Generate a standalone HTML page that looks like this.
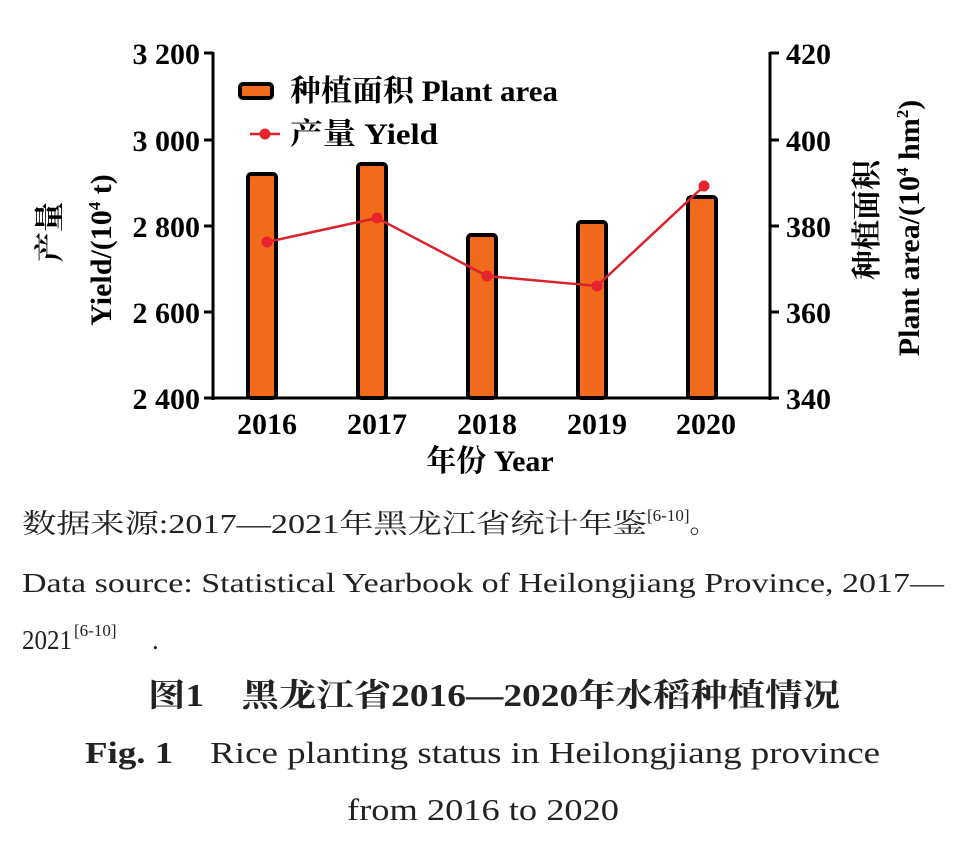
<!DOCTYPE html><html><head><meta charset="utf-8"><style>
body{margin:0;background:#fff;width:966px;height:845px;overflow:hidden}
svg text{font-family:"Liberation Serif","Noto Serif CJK SC",serif}
</style></head><body>
<svg width="966" height="845" viewBox="0 0 966 845" xmlns="http://www.w3.org/2000/svg">
<g stroke="#000" stroke-width="3" fill="none">
<line x1="213" y1="52" x2="213" y2="400"/>
<line x1="212" y1="398" x2="772" y2="398"/>
<line x1="770" y1="52" x2="770" y2="400"/>
<line x1="204" y1="53" x2="213" y2="53"/><line x1="204" y1="140" x2="213" y2="140"/><line x1="204" y1="226" x2="213" y2="226"/><line x1="204" y1="312" x2="213" y2="312"/><line x1="204" y1="398" x2="213" y2="398"/>
<line x1="770" y1="53" x2="779" y2="53"/><line x1="770" y1="140" x2="779" y2="140"/><line x1="770" y1="226" x2="779" y2="226"/><line x1="770" y1="312" x2="779" y2="312"/><line x1="770" y1="398" x2="779" y2="398"/>
</g>
<g font-weight="bold" font-size="30" fill="#000">
<text x="200" y="64" text-anchor="end">3 200</text>
<text x="200" y="151" text-anchor="end">3 000</text>
<text x="200" y="237" text-anchor="end">2 800</text>
<text x="200" y="323" text-anchor="end">2 600</text>
<text x="200" y="409" text-anchor="end">2 400</text>
<text x="786" y="64">420</text><text x="786" y="151">400</text><text x="786" y="237">380</text><text x="786" y="323">360</text><text x="786" y="409">340</text>
<text x="267" y="434" text-anchor="middle">2016</text><text x="377" y="434" text-anchor="middle">2017</text><text x="487" y="434" text-anchor="middle">2018</text><text x="597" y="434" text-anchor="middle">2019</text><text x="706" y="434" text-anchor="middle">2020</text>
<text x="490" y="471" text-anchor="middle">年份 Year</text>
<text transform="translate(60,232) rotate(-90)" text-anchor="middle">产量</text>
<text transform="translate(111,250) rotate(-90)" text-anchor="middle">Yield/(10<tspan font-size="17" dy="-11">4</tspan><tspan dy="11"> t)</tspan></text>
<text transform="translate(877,220) rotate(-90)" text-anchor="middle">种植面积</text>
<text transform="translate(919,228) rotate(-90)" text-anchor="middle">Plant area/(10<tspan font-size="17" dy="-11">4</tspan><tspan dy="11"> hm</tspan><tspan font-size="17" dy="-11">2</tspan><tspan dy="11">)</tspan></text>
<text x="290" y="101" textLength="268" lengthAdjust="spacingAndGlyphs">种植面积 Plant area</text>
<text x="290" y="144" textLength="148" lengthAdjust="spacingAndGlyphs">产量 Yield</text>
</g>
<g fill="#f26a1b" stroke="#000" stroke-width="4">
<rect x="240" y="84" width="32" height="14" rx="3"/>
<rect x="248" y="174" width="28" height="224" rx="3"/>
<rect x="358" y="164" width="28" height="234" rx="3"/>
<rect x="468" y="235" width="28" height="163" rx="3"/>
<rect x="578" y="222" width="28" height="176" rx="3"/>
<rect x="688" y="197" width="28" height="201" rx="3"/>
</g>
<g stroke="#d9232d" stroke-width="2.5" fill="none">
<line x1="250" y1="134" x2="280" y2="134"/>
<polyline points="267,242 377,218 487,276 597,286 704,186"/>
</g>
<g fill="#e8232d">
<circle cx="265" cy="134" r="5.5"/>
<circle cx="267" cy="242" r="5.5"/><circle cx="377" cy="218" r="5.5"/><circle cx="487" cy="276" r="5.5"/><circle cx="597" cy="286" r="5.5"/><circle cx="704" cy="186" r="5.5"/>
</g>
<g fill="#222" font-size="27">
<text x="22" y="533"><tspan textLength="625" lengthAdjust="spacingAndGlyphs">数据来源:2017—2021年黑龙江省统计年鉴</tspan><tspan font-size="17" dy="-12">[6-10]</tspan><tspan dy="12">。</tspan></text>
<text x="22" y="592" textLength="922" lengthAdjust="spacingAndGlyphs">Data source: Statistical Yearbook of Heilongjiang Province, 2017—</text>
<text x="22" y="649" textLength="50" lengthAdjust="spacingAndGlyphs">2021</text><text x="74" y="636" font-size="17">[6-10]</text><text x="152" y="649">.</text>
<text x="148" y="706" font-size="32" font-weight="bold" textLength="692" lengthAdjust="spacingAndGlyphs">图1　黑龙江省2016—2020年水稻种植情况</text>
<text x="85" y="763" font-size="31" textLength="795" lengthAdjust="spacingAndGlyphs"><tspan font-weight="bold">Fig. 1</tspan>　Rice planting status in Heilongjiang province</text>
<text x="483" y="820" text-anchor="middle" font-size="31" textLength="272" lengthAdjust="spacingAndGlyphs">from 2016 to 2020</text>
</g>
</svg>
</body></html>
